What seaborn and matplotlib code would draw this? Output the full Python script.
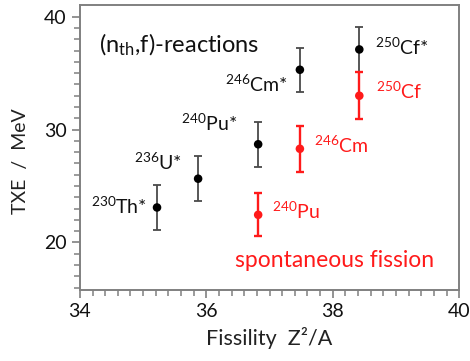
import numpy as np
import matplotlib
matplotlib.use("Agg")
import matplotlib.pyplot as plt
import matplotlib.image as mpimg
from matplotlib.lines import TICKDOWN, TICKLEFT
import seaborn as sns
import pandas as pd
from matplotlib.ticker import FixedLocator

# Thermal-neutron induced fission: compound nuclei
induced_mass = ["230", "236", "240", "246", "250"]
induced_symbol = ["Th", "U", "Pu", "Cm", "Cf"]
induced_fissility = [35.22, 35.87, 36.82, 37.48, 38.42]
induced_txe = [23.1, 25.65, 28.7, 35.3, 37.1]
induced_err = [2.0, 2.0, 2.0, 1.95, 2.0]

# Spontaneous fission
spont_mass = ["240", "246", "250"]
spont_symbol = ["Pu", "Cm", "Cf"]
spont_fissility = [36.82, 37.48, 38.42]
spont_txe = [22.45, 28.3, 33.0]
spont_err = [1.9, 2.05, 2.1]

x_ticks = [34, 36, 38, 40]
y_ticks = [20, 30, 40]

sns.set_theme(style="ticks")
plt.rcParams["font.family"] = ["Lato", "DejaVu Sans"]
plt.rcParams["mathtext.fontset"] = "custom"
plt.rcParams["mathtext.rm"] = "Lato"
plt.rcParams["mathtext.it"] = "Lato:italic"
plt.rcParams["mathtext.bf"] = "Lato:bold"

RED = "#ff1a1a"
BLACK = "#000000"
BAR_GREY = "#4a4a4a"
SPINE = "#808080"

df = pd.concat([
    pd.DataFrame({"fissility": induced_fissility, "txe": induced_txe,
                  "err": induced_err, "mass": induced_mass,
                  "symbol": induced_symbol, "mode": "induced"}),
    pd.DataFrame({"fissility": spont_fissility, "txe": spont_txe,
                  "err": spont_err, "mass": spont_mass,
                  "symbol": spont_symbol, "mode": "spontaneous"}),
], ignore_index=True)

fig = plt.figure(figsize=(4.70, 3.61), dpi=100)
ax = fig.add_axes([0.170, 0.197, 0.807, 0.788])

sns.scatterplot(data=df, x="fissility", y="txe", hue="mode",
                palette={"induced": BLACK, "spontaneous": RED},
                s=38, edgecolor="none", legend=False, ax=ax, zorder=3)

for mode, bar_col, lw in [("induced", BAR_GREY, 1.3), ("spontaneous", RED, 1.7)]:
    sub = df[df["mode"] == mode]
    ax.errorbar(sub["fissility"].to_numpy(), sub["txe"].to_numpy(),
                yerr=sub["err"].to_numpy(), fmt="none",
                ecolor=bar_col, elinewidth=lw, capsize=3.2, capthick=lw, zorder=2)

# label offsets (points) relative to each marker
induced_offsets = [(-7, 1), (-12, 12), (-15, 15), (-8.5, -10.5), (11, 1.5)]
induced_ha = ["right", "right", "right", "right", "left"]
spont_offsets = [(10.3, 2.4), (10, 2.7), (12.2, 3)]

for i in range(len(induced_mass)):
    ax.annotate(f"$^{{{induced_mass[i]}}}$" + induced_symbol[i] + "*",
                (induced_fissility[i], induced_txe[i]),
                xytext=induced_offsets[i], textcoords="offset points",
                ha=induced_ha[i], va="center", fontsize=14, color="#111111")
for i in range(len(spont_mass)):
    ax.annotate(f"$^{{{spont_mass[i]}}}$" + spont_symbol[i],
                (spont_fissility[i], spont_txe[i]),
                xytext=spont_offsets[i], textcoords="offset points",
                ha="left", va="center", fontsize=14, color=RED)

ax.text(0.050, 0.861, r"(n$_{\mathrm{th}}$,f)-reactions", transform=ax.transAxes,
        ha="left", va="center", fontsize=17, color="#111111")
ax.text(0.409, 0.105, "spontaneous fission", transform=ax.transAxes,
        ha="left", va="center", fontsize=16.5, color=RED)

ax.set_xlabel("Fissility  Z²/A", fontsize=15.5, color="#222222", labelpad=5)
ax.set_ylabel("TXE  /  MeV", fontsize=14, color="#222222", labelpad=6)
ax.yaxis.set_label_coords(-0.135, 0.452)

for side in ["top", "right", "left", "bottom"]:
    ax.spines[side].set_color(SPINE)
    ax.spines[side].set_linewidth(1.4)

# axis ranges and ticks: minor every 0.2 in fissility, every 1 MeV in TXE
ax.set_xlim(34, 40)
ax.set_ylim(15.8, 41.0)
x_minor = [v for v in np.round(np.arange(34.2, 40.0, 0.2), 1) if v not in x_ticks]
y_minor = [v for v in range(16, 41) if v not in y_ticks]
ax.xaxis.set_major_locator(FixedLocator(x_ticks))
ax.yaxis.set_major_locator(FixedLocator(y_ticks))
ax.xaxis.set_minor_locator(FixedLocator(x_minor))
ax.yaxis.set_minor_locator(FixedLocator(y_minor))
ax.tick_params(axis="both", which="major", direction="out", length=5.5, width=1.2,
               color=SPINE, labelsize=14, labelcolor="#111111", pad=4)
ax.tick_params(axis="both", which="minor", direction="out", length=4, width=1.1,
               color=SPINE)

fig.savefig("out.png", dpi=100)

# make sure the fissility minor ticks actually came out below the frame
img = mpimg.imread("out.png")
h = img.shape[0]
x0, y0 = ax.transData.transform((x_minor[0], 15.8))
row = int(round(h - y0)) + 3
col = int(round(x0))
if img[row, col - 2:col + 3, :3].min() > 0.9:
    ax.plot(x_minor, [0] * len(x_minor), transform=ax.get_xaxis_transform(),
            linestyle="none", marker=TICKDOWN, markersize=4, markeredgewidth=1.1,
            color=SPINE, clip_on=False, zorder=5)
    fig.savefig("out.png", dpi=100)
